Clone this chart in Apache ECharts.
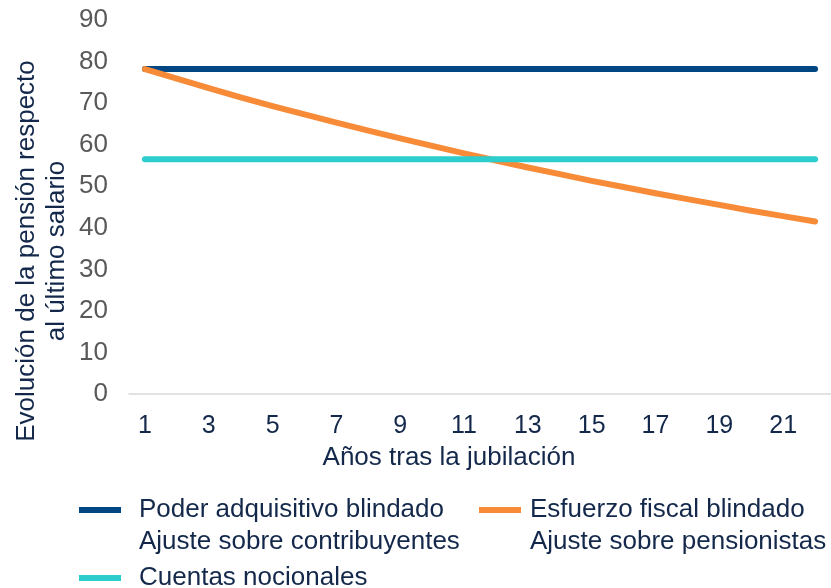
<!DOCTYPE html>
<html>
<head>
<meta charset="utf-8">
<script src="https://cdn.jsdelivr.net/npm/echarts@6/dist/echarts.min.js"></script>
<style>
  html, body { margin: 0; padding: 0; background: #fff; }
  #chart { width: 831px; height: 588px; }
</style>
</head>
<body>
<div id="chart"></div>
<script>
// años tras la jubilación
const years = ['1','2','3','4','5','6','7','8','9','10','11','12','13','14','15','16','17','18','19','20','21','22'];
// valores
const poderAdquisitivo = [78.2,78.2,78.2,78.2,78.2,78.2,78.2,78.2,78.2,78.2,78.2,78.2,78.2,78.2,78.2,78.2,78.2,78.2,78.2,78.2,78.2,78.2];
const esfuerzoFiscal = [78.2,75.9,73.6,71.4,69.3,67.3,65.3,63.4,61.5,59.7,57.9,56.2,54.5,52.9,51.3,49.8,48.3,46.9,45.5,44.1,42.8,41.5];
const cuentasNocionales = [56.5,56.5,56.5,56.5,56.5,56.5,56.5,56.5,56.5,56.5,56.5,56.5,56.5,56.5,56.5,56.5,56.5,56.5,56.5,56.5,56.5,56.5];

const nameA = 'Poder adquisitivo blindado\nAjuste sobre contribuyentes';
const nameB = 'Esfuerzo fiscal blindado\nAjuste sobre pensionistas';
const nameC = 'Cuentas nocionales';

const font = 'Liberation Sans, Arial, sans-serif';
const navyText = '#13284a';

// barra arriba del icono para que quede a la altura de la primera línea
const iconTop = 'path://M0,0H42V6H0Z M0,37.9H0.1V38H0Z';

let myChart = echarts.init(document.getElementById('chart'));

function legendAt(name, left, top, gap) {
    let twoLines = name.indexOf('\n') >= 0;
    return {
        data: [name],
        left: left,
        top: top,
        padding: 0,
        icon: twoLines ? iconTop : 'rect',
        itemWidth: 42,
        itemHeight: twoLines ? 38 : 6,
        selectedMode: false,
        textStyle: {
            fontFamily: font,
            fontSize: 26,
            color: navyText,
            lineHeight: 32,
            padding: [0, 0, 0, gap]
        }
    };
}

function lineSeries(name, data, color) {
    return {
        name: name,
        type: 'line',
        data: data,
        symbol: 'none',
        lineStyle: { width: 6, color: color, cap: 'round', join: 'round' },
        itemStyle: { color: color }
    };
}

let option = {
    animation: false,
    grid: { left: 129, right: -2, top: 20, bottom: 194 },
    legend: [
        legendAt(nameA, 79, 494, 13),
        legendAt(nameB, 479, 494, 4),
        legendAt(nameC, 79, 562, 13)
    ],
    xAxis: {
        type: 'category',
        data: years,
        boundaryGap: true,
        name: 'Años tras la jubilación',
        nameLocation: 'middle',
        nameGap: 51,
        nameTextStyle: { fontFamily: font, fontSize: 26, color: navyText, padding: [0, 62, 0, 0] },
        axisLine: { lineStyle: { color: '#d9d9d9', width: 1.5 } },
        axisTick: { interval: 1, length: 7, lineStyle: { color: '#d9d9d9' } },
        axisLabel: { interval: 1, margin: 20, fontFamily: font, fontSize: 25, color: navyText }
    },
    yAxis: {
        type: 'value',
        min: 0,
        max: 90,
        interval: 10,
        axisLine: { show: false },
        axisTick: { show: false },
        splitLine: { show: false },
        axisLabel: { margin: 21, fontFamily: font, fontSize: 26, color: '#595959' }
    },
    graphic: [{
        type: 'text',
        x: 42,
        y: 251,
        rotation: Math.PI / 2,
        style: {
            text: 'Evolución de la pensión respecto\nal último salario',
            font: '26px ' + font,
            fill: navyText,
            align: 'center',
            verticalAlign: 'middle',
            lineHeight: 30
        }
    }],
    series: [
        lineSeries(nameA, poderAdquisitivo, '#004683'),
        lineSeries(nameB, esfuerzoFiscal, '#f78b38'),
        lineSeries(nameC, cuentasNocionales, '#2ecdcd')
    ]
};
myChart.setOption(option);
</script>
</body>
</html>
